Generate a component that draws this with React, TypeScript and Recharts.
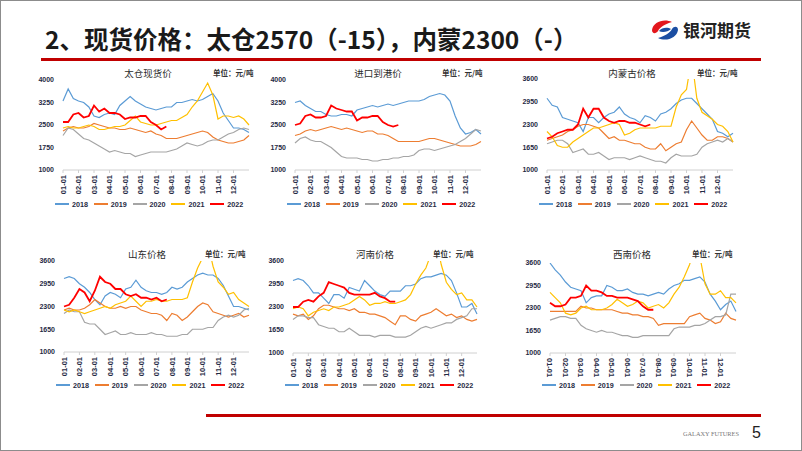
import React from "react"
import { LineChart, Line, XAxis, YAxis } from "recharts"

const months = ["01-01", "02-01", "03-01", "04-01", "05-01", "06-01", "07-01", "08-01", "09-01", "10-01", "11-01", "12-01"]
const years = ["2018", "2019", "2020", "2021", "2022"]
const colors = ["#5B9BD5", "#ED7D31", "#A5A5A5", "#FFC000", "#FF0000"]
const ticksA = [1000, 1750, 2500, 3250, 4000]
const ticksB = [1000, 1650, 2300, 2950, 3600]

// values every ~10 days (3 points per month), 2022 up to late July
// 太仓现货价
const tc18 = [3300, 3700, 3380, 3300, 3250, 3100, 2800, 2750, 2850, 2900, 2850, 3150, 3300, 3450, 3300, 3200, 3100, 3050, 3000, 3050, 3100, 3100, 3250, 3250, 3300, 3350, 3300, 3350, 3450, 3550, 3300, 2900, 2650, 2400, 2400, 2350, 2250]
const tc19 = [2300, 2400, 2450, 2400, 2400, 2450, 2550, 2500, 2450, 2400, 2400, 2350, 2350, 2400, 2350, 2300, 2250, 2300, 2200, 2150, 2050, 2050, 2050, 2100, 2150, 2200, 2250, 2300, 2250, 2100, 2000, 1950, 1900, 1900, 1950, 2000, 2150]
const tc20 = [2150, 2400, 2350, 2200, 2050, 2000, 1900, 1800, 1700, 1600, 1650, 1600, 1550, 1550, 1450, 1500, 1550, 1600, 1600, 1600, 1600, 1650, 1700, 1800, 1900, 1850, 1800, 1850, 1950, 2000, 2000, 2100, 2200, 2250, 2350, 2400, 2350]
const tc21 = [2400, 2450, 2400, 2400, 2450, 2500, 2450, 2350, 2350, 2400, 2450, 2450, 2500, 2650, 2800, 2600, 2550, 2500, 2500, 2550, 2600, 2650, 2650, 2750, 2850, 3100, 3300, 3600, 3900, 3500, 2700, 2800, 2800, 2750, 2800, 2700, 2500]
const tc22 = [2600, 2600, 2850, 2900, 2750, 2800, 3150, 2950, 3050, 2900, 2900, 2850, 2700, 2750, 2750, 2800, 2800, 2600, 2500, 2350, 2450]

// 进口到港价
const pt18 = [3250, 3300, 3150, 3050, 2950, 2950, 2850, 2800, 2800, 2850, 2850, 2800, 3000, 3050, 3100, 3150, 3100, 3150, 3200, 3150, 3200, 3250, 3300, 3300, 3300, 3350, 3450, 3500, 3550, 3500, 3300, 2800, 2400, 2200, 2250, 2350, 2200]
const pt19 = [2150, 2200, 2300, 2350, 2300, 2350, 2400, 2450, 2400, 2350, 2400, 2350, 2300, 2250, 2300, 2300, 2200, 2200, 2150, 2050, 1950, 1950, 1950, 1950, 1950, 2000, 2050, 2050, 2000, 1950, 1900, 1850, 1800, 1800, 1800, 1850, 1950]
const pt20 = [1900, 2050, 2100, 2000, 1950, 1950, 1850, 1750, 1600, 1450, 1400, 1400, 1400, 1350, 1350, 1300, 1300, 1350, 1350, 1400, 1400, 1450, 1450, 1500, 1650, 1700, 1700, 1650, 1700, 1750, 1800, 1850, 1950, 2050, 2200, 2350, 2300]
const pt21: number[] = []
const pt22 = [2500, 2550, 2800, 2850, 2750, 2750, 2800, 3150, 3050, 3000, 2950, 2950, 2650, 2750, 2750, 2800, 2800, 2600, 2500, 2450, 2500]

// 内蒙古价格
const nm18 = [3050, 2850, 2800, 2500, 2450, 2400, 2350, 2100, 2500, 2500, 2350, 2500, 2600, 2650, 2800, 2600, 2500, 2450, 2350, 2550, 2500, 2400, 2600, 2650, 2750, 2900, 3000, 3050, 3050, 2900, 2750, 2600, 2450, 2100, 2050, 1950, 2050]
const nm19 = [1850, 1900, 1950, 2000, 2100, 2150, 2250, 2300, 2300, 2250, 2200, 2050, 1900, 1950, 1850, 1850, 1800, 1750, 1750, 1650, 1600, 1600, 1750, 1550, 1650, 1750, 1800, 2150, 2400, 2200, 2000, 1850, 1850, 1950, 1950, 1900, 1800]
const nm20 = [1750, 1800, 1850, 1850, 1750, 1500, 1550, 1600, 1450, 1450, 1500, 1400, 1300, 1350, 1350, 1350, 1300, 1350, 1400, 1350, 1300, 1250, 1250, 1200, 1350, 1450, 1400, 1400, 1400, 1450, 1650, 1750, 1800, 1850, 1800, 1900, 1800]
const nm21 = [2100, 1950, 1700, 1650, 1650, 1800, 1900, 2000, 2100, 2200, 2200, 2250, 2300, 2350, 2300, 2000, 2050, 2150, 2200, 2200, 2200, 2200, 2250, 2250, 2250, 2800, 3150, 3300, 4200, 3050, 2650, 2550, 2450, 2300, 2250, 2100, 1800]
const nm22 = [1900, 1950, 2050, 2100, 2150, 2150, 2300, 2750, 2500, 2750, 2750, 2500, 2400, 2350, 2400, 2400, 2350, 2350, 2300, 2250, 2300]

// 山东价格
const sd18 = [3100, 3150, 3100, 2950, 2850, 2700, 2500, 2350, 2600, 2700, 2650, 2550, 2800, 2850, 3050, 2850, 2750, 2700, 2700, 2650, 2700, 2850, 2800, 2850, 3000, 3100, 3200, 3250, 3200, 3200, 3100, 2900, 2600, 2300, 2300, 2250, 2200]
const sd19 = [2200, 2250, 2200, 2200, 2250, 2350, 2500, 2400, 2300, 2250, 2250, 2300, 2250, 2300, 2300, 2200, 2150, 2100, 2100, 2050, 1900, 2100, 2050, 1900, 2000, 2150, 2300, 2400, 2350, 2150, 2100, 2050, 2000, 2050, 2100, 2000, 2050]
const sd20 = [2100, 2200, 2150, 2150, 1850, 1800, 1800, 1650, 1500, 1550, 1600, 1500, 1500, 1550, 1500, 1500, 1500, 1550, 1500, 1500, 1450, 1450, 1450, 1500, 1500, 1650, 1650, 1650, 1700, 1700, 1900, 2000, 2050, 2000, 2050, 2200, 2250]
const sd21 = [2200, 2150, 2200, 2150, 2100, 2150, 2200, 2250, 2300, 2250, 2350, 2400, 2450, 2600, 2450, 2300, 2450, 2450, 2500, 2450, 2450, 2500, 2500, 2500, 2550, 3000, 3400, 3700, 4100, 3450, 3000, 2850, 2650, 2700, 2500, 2400, 2300]
const sd22 = [2300, 2350, 2550, 2800, 2700, 2450, 2750, 3150, 3000, 2950, 2800, 2800, 2650, 2600, 2650, 2550, 2550, 2500, 2550, 2450, 2500]

// 河南价格
const hn18 = [3050, 3100, 3050, 2900, 2700, 2700, 2550, 2400, 2650, 2650, 2550, 2850, 2800, 2750, 3050, 2900, 2750, 2650, 2600, 2750, 2750, 2750, 2900, 2900, 2950, 3100, 3150, 3150, 3200, 3250, 3200, 3050, 2700, 2300, 2300, 2400, 2100]
const hn19 = [2100, 2050, 2100, 1950, 2050, 2250, 2350, 2350, 2300, 2250, 2250, 2200, 2250, 2150, 2150, 2100, 2100, 2050, 2000, 1900, 1800, 2050, 2050, 1950, 1900, 2050, 2100, 2150, 2250, 2150, 2050, 2100, 2000, 2050, 1950, 1900, 1950]
const hn20 = [1950, 2050, 2050, 2000, 2000, 1800, 1750, 1700, 1700, 1600, 1600, 1700, 1600, 1500, 1500, 1500, 1450, 1500, 1500, 1500, 1450, 1450, 1450, 1500, 1600, 1700, 1750, 1700, 1750, 1800, 1850, 1850, 1950, 2000, 2050, 2250, 2250]
const hn21 = [2250, 2300, 2250, 2050, 2150, 2200, 2250, 2200, 2300, 2300, 2350, 2400, 2500, 2600, 2500, 2350, 2400, 2400, 2450, 2400, 2400, 2450, 2500, 2650, 2950, 3200, 3400, 3800, 4200, 3500, 3000, 2800, 2650, 2700, 2500, 2500, 2300]
const hn22 = [2300, 2300, 2450, 2500, 2450, 2600, 2700, 3000, 2950, 2900, 2850, 2700, 2650, 2650, 2650, 2650, 2700, 2600, 2550, 2450, 2450]

// 西南价格
const xn18 = [3600, 3400, 3250, 3050, 2900, 2850, 2800, 2450, 2600, 2650, 2650, 2950, 2900, 2800, 2800, 2850, 2750, 2700, 2700, 2650, 2700, 2750, 2700, 2850, 2950, 3000, 3100, 3100, 3150, 3200, 3050, 2700, 2500, 2250, 2400, 2500, 2200]
const xn19 = [2200, 2200, 2200, 2200, 2200, 2200, 2350, 2300, 2300, 2250, 2250, 2250, 2250, 2200, 2150, 2150, 2100, 2100, 2050, 2050, 2000, 1800, 1850, 1850, 1850, 1850, 1850, 2050, 2100, 2150, 2000, 1950, 1850, 1900, 2150, 2000, 1950]
const xn20 = [1950, 2000, 2050, 2050, 2000, 2000, 1800, 1700, 1650, 1600, 1650, 1600, 1600, 1550, 1500, 1500, 1450, 1450, 1500, 1500, 1500, 1500, 1500, 1500, 1700, 1750, 1750, 1750, 1800, 1800, 1850, 1950, 2050, 2050, 2100, 2700, 2700]
const xn21 = [2750, 2600, 2450, 2150, 2100, 2150, 2300, 2350, 2250, 2250, 2250, 2300, 2400, 2550, 2450, 2350, 2400, 2500, 2450, 2300, 2350, 2400, 2300, 2450, 2700, 2900, 3200, 3550, 4000, 3800, 3000, 2700, 2700, 2800, 2600, 2600, 2450]
const xn22 = [2450, 2350, 2350, 2400, 2600, 2600, 2650, 2950, 2800, 2800, 2750, 2650, 2650, 2600, 2600, 2600, 2550, 2500, 2350, 2250, 2250]

const charts = [
  { title: "太仓现货价", series: [tc18, tc19, tc20, tc21, tc22], ticks: ticksA, titleX: 148, unitX: 213, titleY: 73, left: 63, top: 80, w: 186, h: 90, legendY: 204 },
  { title: "进口到港价", series: [pt18, pt19, pt20, pt21, pt22], ticks: ticksA, titleX: 378, unitX: 442, titleY: 73, left: 295, top: 80, w: 186, h: 90, legendY: 204 },
  { title: "内蒙古价格", series: [nm18, nm19, nm20, nm21, nm22], ticks: ticksB, titleX: 632, unitX: 697, titleY: 73, left: 547, top: 79, w: 186, h: 91, legendY: 204 },
  { title: "山东价格", series: [sd18, sd19, sd20, sd21, sd22], ticks: ticksB, titleX: 147, unitX: 205, titleY: 254, left: 64, top: 261, w: 185, h: 91, legendY: 385 },
  { title: "河南价格", series: [hn18, hn19, hn20, hn21, hn22], ticks: ticksB, titleX: 375, unitX: 433, titleY: 254, left: 293, top: 261, w: 184, h: 92, legendY: 385 },
  { title: "西南价格", series: [xn18, xn19, xn20, xn21, xn22], ticks: ticksB, titleX: 632, unitX: 692, titleY: 254, left: 550, top: 263, w: 186, h: 90, legendY: 385, flip: true },
]

const numFont = "'Liberation Sans', Arial, sans-serif"
const cjkFont = "'Noto Sans CJK SC', 'Noto Sans', sans-serif"
const labelColor = "#1F2A44"

function buildRows(series: number[][]) {
  const rows: any[] = []
  for (let k = 0; k <= 36; k++) {
    const row: any = { k }
    years.forEach((y, i) => {
      const v = series[i][k]
      if (v !== undefined) row["y" + y] = v
    })
    rows.push(row)
  }
  return rows
}

function MonthTick(props: any) {
  const { x, y, payload, flip } = props
  const label = months[Math.round(payload.value / 3)]
  return (
    <text
      x={x}
      y={y}
      transform={`rotate(${flip ? 90 : -90}, ${x}, ${y})`}
      textAnchor={flip ? "start" : "end"}
      dy="0.35em"
      fontSize={7.5}
      fontWeight={700}
      fontFamily={numFont}
      fill={labelColor}
    >
      {label}
    </text>
  )
}

function PriceChart({ c }: { c: any }) {
  const yW = 30
  const mt = 6
  const mr = 6
  const xH = 28
  const rows = buildRows(c.series)
  const legendLeft = c.left - 8
  return (
    <>
      <div style={{ position: "absolute", left: c.titleX - 40, width: 80, top: c.titleY - 7, textAlign: "center", fontFamily: cjkFont, fontSize: 9.5, color: "#2b2b2b", lineHeight: "14px" }}>
        {c.title}
      </div>
      <div style={{ position: "absolute", left: c.unitX, top: c.titleY - 6, fontFamily: cjkFont, fontSize: 7.5, fontWeight: 700, color: "#333", lineHeight: "12px", whiteSpace: "nowrap" }}>
        单位：元/吨
      </div>
      <div style={{ position: "absolute", left: c.left - yW, top: c.top - mt }}>
        <LineChart width={yW + c.w + mr} height={mt + c.h + xH} data={rows} margin={{ top: mt, right: mr, left: 0, bottom: 0 }}>
          <XAxis
            type="number"
            dataKey="k"
            domain={[0, 36]}
            ticks={[0, 3, 6, 9, 12, 15, 18, 21, 24, 27, 30, 33]}
            height={xH}
            stroke="#D0D0D0"
            tickSize={3}
            tickMargin={2}
            interval={0}
            tick={(p: any) => <MonthTick {...p} flip={c.flip} />}
          />
          <YAxis
            type="number"
            domain={[c.ticks[0], c.ticks[4]]}
            ticks={c.ticks}
            allowDataOverflow
            width={yW}
            axisLine={false}
            tickLine={false}
            tickSize={0}
            tickMargin={9}
            tick={{ fontSize: 7, fontWeight: 700, fill: labelColor, fontFamily: numFont }}
          />
          {years.map((y, i) => (
            <Line
              key={y}
              type="linear"
              dataKey={"y" + y}
              stroke={colors[i]}
              strokeWidth={i === 4 ? 1.8 : 1.2}
              dot={false}
              isAnimationActive={false}
            />
          ))}
        </LineChart>
      </div>
      {years.map((y, i) => (
        <div key={y} style={{ position: "absolute", left: legendLeft + i * 38.8, top: c.legendY - 6, height: 12, display: "flex", alignItems: "center" }}>
          <div style={{ width: 14, height: i === 4 ? 2 : 1.5, background: colors[i] }} />
          <span style={{ marginLeft: 3, fontFamily: numFont, fontSize: 7.2, fontWeight: 700, color: labelColor }}>{y}</span>
        </div>
      ))}
    </>
  )
}

function Logo() {
  return (
    <svg style={{ position: "absolute", left: 650, top: 19 }} width={30} height={22} viewBox="0 0 30 22">
      <path d="M22 3 C14 -1 3 3 2 11 C2 15 6 15 8 12 C10 8 15 5 22 3 Z" fill="#E3171D" />
      <path d="M8 19 C16 23 27 19 28 11 C28 7 24 7 22 10 C20 14 15 17 8 19 Z" fill="#1B4EA2" />
      <path d="M9 12 C12 8 18 8 21 10 C18 13 12 14 9 12 Z" fill="#1B4EA2" />
    </svg>
  )
}

export default function App() {
  return (
    <div style={{ position: "absolute", left: 0, top: 0, width: 802, height: 451, background: "#fff", overflow: "hidden" }}>
      <div style={{ position: "absolute", left: 45, top: 22, fontFamily: cjkFont, fontSize: 24.5, fontWeight: 700, color: "#1a1a1a", whiteSpace: "nowrap", lineHeight: "34px" }}>
        2、现货价格：太仓2570（-15），内蒙2300（-）
      </div>
      <Logo />
      <div style={{ position: "absolute", left: 683, top: 19, fontFamily: cjkFont, fontSize: 17, fontWeight: 700, color: "#222", lineHeight: "22px", whiteSpace: "nowrap" }}>
        银河期货
      </div>
      <div style={{ position: "absolute", left: 41, top: 58, width: 720, height: 3, background: "#C00000" }} />
      {charts.map((c, i) => (
        <PriceChart key={i} c={c} />
      ))}
      <div style={{ position: "absolute", left: 206, top: 414, width: 555, height: 3, background: "#C00000" }} />
      <div style={{ position: "absolute", left: 683, top: 430, fontFamily: "'Liberation Serif', serif", fontSize: 6.3, color: "#777", whiteSpace: "nowrap" }}>
        GALAXY FUTURES
      </div>
      <div style={{ position: "absolute", left: 752, top: 424, fontFamily: numFont, fontSize: 16, color: "#222", lineHeight: "18px" }}>5</div>
      <div style={{ position: "absolute", inset: 0, border: "1px solid #8C8C8C", pointerEvents: "none" }} />
    </div>
  )
}
